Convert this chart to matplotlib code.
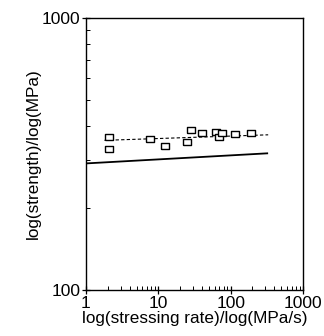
import matplotlib
matplotlib.use("Agg")
import matplotlib.pyplot as plt
from matplotlib.ticker import LogLocator, NullFormatter, FixedLocator, FixedFormatter

plt.rcParams["font.family"] = ["Liberation Sans", "DejaVu Sans"]

# measured points (stressing rate MPa/s, strength MPa)
rate = [2.1, 2.1, 7.7, 12.5, 25, 28.3, 40.6, 62, 69, 77, 115, 190]
strength = [364, 330, 358, 339, 351, 387, 377, 382, 365, 378, 375, 378]

# dashed fit through the data
fit_rate = [1.8, 330]
fit_strength = [355, 372]

# solid prediction line
pred_rate = [1, 320]
pred_strength = [292, 318]

xticks = [1, 10, 100, 1000]
yticks = [100, 1000]

fig = plt.figure(figsize=(3.24, 3.36), dpi=100)
ax = fig.add_axes([86 / 324, 46 / 336, 217 / 324, 272 / 336])

ax.plot(pred_rate, pred_strength, color="black", lw=1.3)
ax.plot(fit_rate, fit_strength, color="black", lw=0.8, ls=(0, (3, 2)))
box = [(-1, -0.7), (1, -0.7), (1, 0.7), (-1, 0.7), (-1, -0.7)]
ax.plot(rate, strength, ls="none", marker=box, ms=5.5, mfc="white",
        mec="black", mew=1.0)

ax.set_xscale("log")
ax.set_yscale("log")
ax.set_xlim(1, 1000)
ax.set_ylim(100, 1000)

ax.xaxis.set_major_locator(FixedLocator(xticks))
ax.xaxis.set_major_formatter(FixedFormatter([str(t) for t in xticks]))
ax.yaxis.set_major_locator(FixedLocator(yticks))
ax.yaxis.set_major_formatter(FixedFormatter([str(t) for t in yticks]))
ax.xaxis.set_minor_locator(LogLocator(base=10, subs=range(2, 10)))
ax.yaxis.set_minor_locator(LogLocator(base=10, subs=range(2, 10)))
ax.xaxis.set_minor_formatter(NullFormatter())
ax.yaxis.set_minor_formatter(NullFormatter())

ax.tick_params(axis="both", which="major", direction="inout", length=6,
               width=0.9, labelsize=12.5, pad=1)
ax.tick_params(axis="both", which="minor", direction="in", length=3, width=0.7)
for s in ax.spines.values():
    s.set_linewidth(1.0)

ax.set_xlabel("log(stressing rate)/log(MPa/s)", fontsize=12.3, labelpad=0)
ax.set_ylabel("log(strength)/log(MPa)", fontsize=12.3, labelpad=1)

fig.savefig("out.png", dpi=100)
